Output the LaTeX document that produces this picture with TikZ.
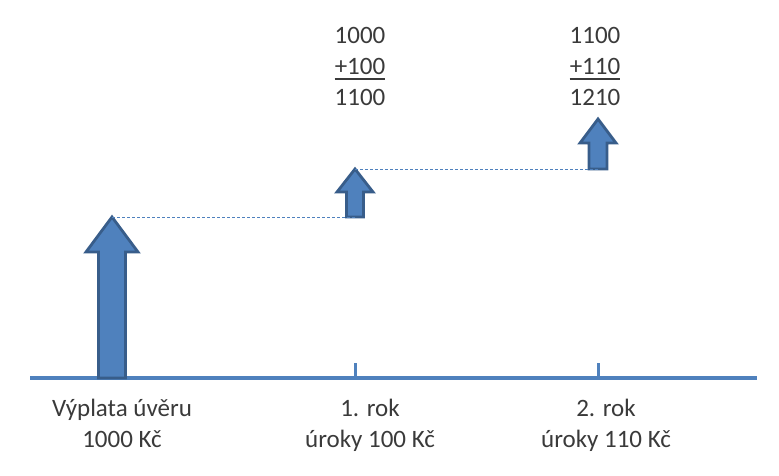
\documentclass[tikz,border=0pt]{standalone}
\usepackage{fontspec}
\setmainfont{Carlito}
\usepackage{tikz}
\usetikzlibrary{arrows.meta,positioning,calc}
\usepackage{xcolor}
\definecolor{loanblue}{HTML}{4F81BD}
\definecolor{loanedge}{HTML}{385D8A}
\definecolor{loantext}{HTML}{3A3A3A}
\tikzset{
  lnarrow/.style={fill=loanblue, draw=loanedge, line width=2.8pt, line join=miter},
  lnaxis/.style={draw=loanblue, line width=3.2pt},
  lntick/.style={draw=loanblue, line width=3pt},
  lnguide/.style={draw=loanblue, line width=0.9pt, dash pattern=on 3pt off 2pt},
  lnnum/.style={font=\fontsize{25}{31}\selectfont, text=loantext, inner sep=0pt, anchor=base},
  lnlabel/.style={font=\fontsize{25}{31}\selectfont, text=loantext, inner sep=0pt, align=center, anchor=base},
  lnrule/.style={draw=loantext, line width=2pt},
}
% #1 name, #2 x, #3 bottom, #4 head base, #5 tip, #6 half shaft, #7 half head
\newcommand{\LoanArrow}[7]{%
  \draw[lnarrow] (#2-#6,#3) -- (#2-#6,#4) -- (#2-#7,#4) -- (#2,#5)
    -- (#2+#7,#4) -- (#2+#6,#4) -- (#2+#6,#3) -- cycle;
  \coordinate (#1-tip) at (#2,#5);
  \coordinate (#1-foot) at (#2,#3);
}

\begin{document}
\begin{tikzpicture}[x=1pt,y=1pt]
  \useasboundingbox (0,0) rectangle (779,476);

  % time axis
  \coordinate (axl) at (30,98);
  \coordinate (axr) at (757,98);
  \draw[lnaxis] (axl) -- (axr);
  \coordinate (tick1) at (355,98);
  \coordinate (tick2) at (598,98);
  \draw[lntick] (tick1) -- ++(0,15);
  \draw[lntick] (tick2) -- ++(0,15);

  % payments
  \LoanArrow{loan}{112}{98}{224}{259}{13.5}{26}
  \LoanArrow{year1}{355}{259}{284}{307}{8.5}{18}
  \LoanArrow{year2}{598}{307}{333}{357}{9}{18}

  \draw[lnguide] (loan-tip) -- (year1-foot);
  \draw[lnguide] (year1-tip) -- (year2-foot);

  % sums
  \node[lnnum] (sum1a) at (360,432) {1000};
  \node[lnnum] (sum1b) at (360,401) {+100};
  \node[lnnum] (sum1c) at (360,370) {1100};
  \draw[lnrule] ([yshift=-4pt]sum1b.base west) -- ([yshift=-4pt]sum1b.base east);

  \node[lnnum] (sum2a) at (595,432) {1100};
  \node[lnnum] (sum2b) at (595,401) {+110};
  \node[lnnum] (sum2c) at (595,370) {1210};
  \draw[lnrule] ([yshift=-4pt]sum2b.base west) -- ([yshift=-4pt]sum2b.base east);

  % labels under the axis
  \node[lnlabel] (lbl0) at (122,28) {Výplata úvěru\\1000 Kč};
  \node[lnlabel] (lbl1) at (370,28) {1. rok\\úroky 100 Kč};
  \node[lnlabel] (lbl2) at (606,28) {2. rok\\úroky 110 Kč};
\end{tikzpicture}
\end{document}
